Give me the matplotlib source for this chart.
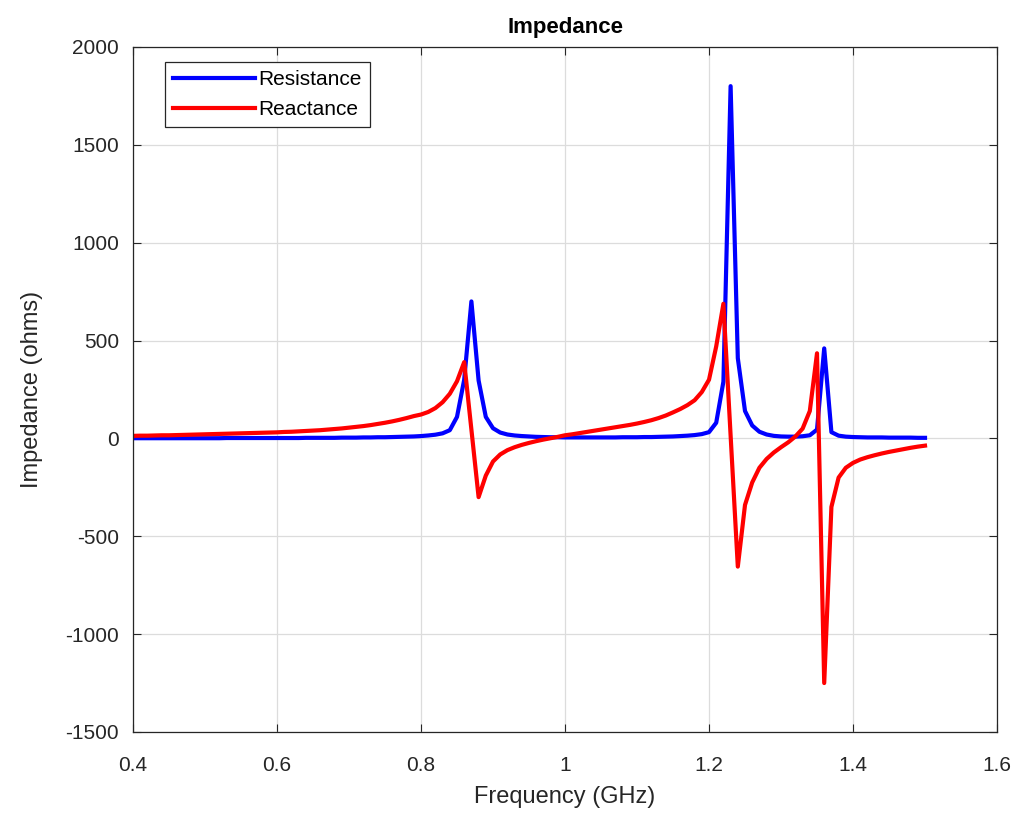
import numpy as np
import matplotlib
matplotlib.use("Agg")
import matplotlib.pyplot as plt

# frequency samples, GHz (0.40 .. 1.50 in 0.01 steps)
freq = np.round(np.arange(0.40, 1.505, 0.01), 2)

resistance = [
    1, 1, 1, 1, 1, 1, 1, 1, 1, 1,            # 0.40-0.49
    1, 1, 1, 2, 2, 2, 2, 2, 2, 2,            # 0.50-0.59
    2, 2, 2, 2, 3, 3, 3, 3, 3, 4,            # 0.60-0.69
    4, 4, 5, 5, 6, 6, 7, 8, 9, 10,           # 0.70-0.79
    12, 15, 19, 26, 42, 110, 300, 700, 296, 110,  # 0.80-0.89
    52, 30, 20, 15, 12, 10, 8, 7, 6, 6,      # 0.90-0.99
    5, 5, 5, 5, 5, 5, 5, 5, 6, 6,            # 1.00-1.09
    6, 7, 7, 8, 9, 10, 12, 14, 17, 22,       # 1.10-1.19
    32, 80, 290, 1800, 410, 140, 66, 34, 20, 13,  # 1.20-1.29
    10, 9, 9, 11, 16, 45, 460, 32, 14, 9,    # 1.30-1.39
    7, 6, 5, 5, 5, 4, 4, 4, 4, 3, 3,         # 1.40-1.50
]

reactance = [
    13, 14, 14, 15, 16, 16, 17, 18, 19, 20,  # 0.40-0.49
    21, 22, 23, 24, 25, 26, 27, 28, 29, 30,  # 0.50-0.59
    31, 33, 34, 36, 38, 40, 42, 45, 48, 51,  # 0.60-0.69
    55, 59, 63, 68, 74, 80, 87, 95, 104, 114,  # 0.70-0.79
    122, 135, 155, 185, 228, 292, 390, 45, -300, -190,  # 0.80-0.89
    -118, -82, -60, -45, -33, -23, -14, -6, 1, 8,  # 0.90-0.99
    16, 21, 27, 33, 39, 45, 51, 57, 63, 69,  # 1.00-1.09
    76, 84, 93, 104, 117, 133, 150, 170, 195, 237,  # 1.10-1.19
    300, 470, 688, 15, -655, -340, -225, -150, -105, -72,  # 1.20-1.29
    -45, -20, 10, 50, 140, 435, -1250, -350, -200, -150,  # 1.30-1.39
    -125, -108, -96, -86, -77, -69, -62, -55, -48, -42, -37,  # 1.40-1.50
]

plt.rcParams["font.family"] = ["Liberation Sans", "DejaVu Sans"]
plt.rcParams["axes.unicode_minus"] = False

fig = plt.figure(figsize=(10.23, 8.23), dpi=100)
ax = fig.add_axes([0.130, 0.1106, 0.8446, 0.8323])

ax.plot(freq, resistance, color="#0000ff", lw=3.0, label="Resistance")
ax.plot(freq, reactance, color="#ff0000", lw=3.0, label="Reactance")

ax.set_xlim(0.4, 1.6)
ax.set_ylim(-1500, 2000)
ax.set_xticks(np.arange(0.4, 1.61, 0.2))
ax.set_xticklabels(["0.4", "0.6", "0.8", "1", "1.2", "1.4", "1.6"])
ax.set_yticks(np.arange(-1500, 2001, 500))

ax.grid(True, color="#dcdcdc", lw=0.9)
ax.set_axisbelow(True)
ax.tick_params(direction="in", top=True, right=True, length=6,
               labelsize=15, colors="#262626", pad=10)
ax.tick_params(axis="x", pad=17)
for s in ax.spines.values():
    s.set_color("#262626")
    s.set_linewidth(0.9)

ax.set_title("Impedance", fontsize=16, fontweight="bold", pad=10)
ax.set_xlabel("Frequency (GHz)", fontsize=17, color="#262626", labelpad=8)
ax.set_ylabel("Impedance (ohms)", fontsize=17, color="#262626", labelpad=16)

leg = ax.legend(loc="upper left", bbox_to_anchor=(0.037, 0.978),
                fontsize=15, handlelength=3.9, handletextpad=0.2,
                borderpad=0.4, labelspacing=0.5, fancybox=False,
                framealpha=1, edgecolor="#262626", borderaxespad=0)
leg.get_frame().set_linewidth(0.9)

fig.savefig("out.png", dpi=100)
